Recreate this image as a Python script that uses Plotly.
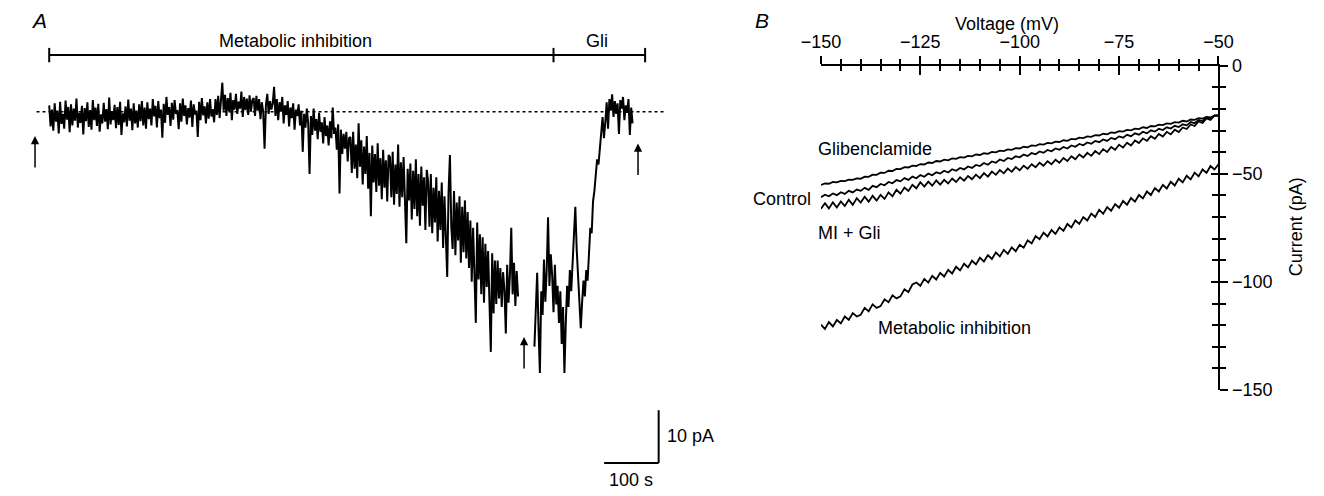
import plotly.graph_objects as go

# ---------------- Panel A data: whole-cell current trace (pA), sampled every 2.5 s ----------------
sample_step_s = 2.5
start_before_gap_s = 0
start_after_gap_s = 890
current_before_gap = [
    # 0-180 s: control, near zero
    1.2, -2.8, 0.4, -3.6, 1.6, -1.9, 0.2, -4.1, 1.9, -2.3, -0.4, -3.2, 2.1, -1.5, 0.9, -3.9,
    1.4, -2.6, 0.6, -1.7, 2.5, -3.0, -0.2, -2.1, 1.1, -4.3, 0.7, -1.8, 1.8, -2.9, 0.3, -3.4,
    2.2, -1.6, 0.8, -2.7, 1.5, -3.8, -0.5, -2.2, 1.7, -1.9, 0.5, -3.3, 2.7, -2.4, 0.1, -1.6,
    1.3, -3.1, 0.9, -2.5, 1.9, -4.4, -0.3, -2.0, 1.0, -2.8, 2.3, -1.7, 0.6, -3.5,
    1.6, -2.2, 0.2, -3.0, 1.4, -1.8, 2.0, -2.6, 0.8, -3.2,
    # 180-305 s
    1.8, -1.4, 0.6, -2.6, 2.4, -0.9, 1.1, -3.0, 2.0, -1.2, 0.4, -4.9,
    1.5, -2.1, 2.8, -0.6, 0.9, -2.7, 1.7, -1.5, 2.2, -0.4, 0.3, -3.3,
    1.6, -1.9, 2.5, -0.8, 1.2, -2.4, 0.7, -1.1, 2.1, -2.9, 1.4, -0.5, 0.2, -4.8,
    1.9, -1.6, 2.6, -0.7, 1.0, -2.2, 1.8, -1.3, 2.4, -0.9, 0.5, -2.0,
    # 305-375 s
    2.4, -0.6, 3.0, -1.2, 2.1, 5.5, 0.2, 3.2, -0.8, 2.6, 0.1, 3.6,
    -1.6, 2.2, 0.4, 3.4, -0.4, 1.9, 0.6, 3.8, -1.0, 2.8, 0.3, 2.5,
    -0.6, 3.1, 0.0, 2.2,
    # 375-410 s
    2.6, -0.8, 3.0, 0.2, 2.4, -1.4, 1.8, 0.0, -7.0, 1.2, 3.4, -0.4, 2.0, 0.4,
    # 410-480 s: current starts to develop
    1.6, 4.7, -0.8, 2.4, -1.6, 1.8, 0.0, 2.8, -2.2, 1.2, -0.6, 2.0,
    -2.8, 0.8, -1.2, 1.6, -3.4, 0.4, -0.8, 1.4, -2.6, 0.2, -7.6, -0.4,
    -3.0, 0.6, -2.2, -11.8,
    # 480-552 s
    -0.8, -4.4, 0.6, -3.6, -1.4, -5.2, -0.2, -3.8, -2.0, -6.0, -1.0, -4.6,
    -2.6, -6.4, -1.8, -5.0, 0.8, -4.2, -3.0, -7.2, -2.4, -15.5, -3.4, -8.0,
    -4.2, -7.0, -3.8, -9.4, -5.0,
    # 552-625 s
    -4.8, -11.6, -3.8, -10.8, -6.2, -12.6, -2.2, -10.4, -5.4, -13.8, -6.6, -11.8,
    -4.6, -14.6, -7.8, -19.8, -6.4, -13.4, -8.0, -15.2, -6.0, -14.0, -8.8, -16.6,
    -7.2, -14.4, -9.2, -17.0, -8.2,
    # 625-695 s
    -8.6, -16.2, -7.6, -17.6, -10.0, -15.6, -6.2, -18.0, -9.6, -16.2, -8.6, -19.4,
    -24.9, -10.8, -16.8, -9.8, -20.4, -11.2, -18.4, -9.0, -19.8, -11.8, -21.6, -10.4,
    -17.8, -12.4, -22.4, -11.0,
    # 695-767 s
    -13.2, -21.8, -11.8, -23.0, -14.4, -21.0, -12.4, -24.6, -15.0, -22.4, -13.4, -25.8,
    -16.0, -23.6, -31.3, -15.2, -8.2, -21.8, -26.0, -15.0, -27.2, -17.2, -24.4, -16.0,
    -28.6, -18.0, -26.6, -16.8, -27.8,
    # 767-822 s
    -19.0, -29.6, -20.6, -32.2, -22.0, -30.6, -40.0, -21.0, -31.8, -23.2, -34.6, -23.8,
    -36.2, -25.0, -33.2, -26.4, -38.0, -45.5, -26.8, -38.2, -28.2, -36.4,
    # 822-860 s
    -28.2, -35.4, -29.6, -37.0, -30.4, -33.8, -42.0, -29.0, -36.2, -31.0, -22.0, -34.6,
    -28.6, -36.8, -30.2, -35.0,
]
current_after_gap = [
    # 890-920 s
    -44.5, -36.0, -30.5, -41.0, -49.5, -34.0, -38.5, -28.0, -36.0, -30.0, -20.0, -33.0, -27.0,
    # 922-945 s
    -31.0, -38.0, -29.0, -36.5, -33.0, -40.0, -34.0, -44.0, -37.0, -49.5,
    # 947-975 s: glibenclamide applied
    -40.0, -33.0, -37.0, -30.0, -34.0, -28.0, -24.0, -18.0, -26.0, -31.0, -36.0, -41.0,
    # 977-1017 s
    -36.0, -32.0, -35.0, -30.0, -32.0, -26.0, -22.0, -23.0, -17.0, -15.0, -12.0, -9.0,
    -10.0, -6.0, -4.0, -1.0, -5.0,
    # 1020-1070 s
    -2.0, 1.8, -3.2, 2.4, 0.2, 3.3, -1.0, 2.0, -0.4, 1.6, -4.2, 2.2, 0.6, 2.8, -1.6, 1.2,
    -0.2, 2.4, -4.4, 0.8, -2.2,
]

# drug application periods (s), arrow marks (s, pA) and scale bars
mi_period = [0, 925]
gli_period = [925, 1093]
arrow_times = [-26, 871, 1080]
arrow_levels = [-4.6, -42.7, -6.0]
scale_time_s = 100
scale_current_pA = 10

# ---------------- Panel B data: I-V relations, 1 mV steps from -150 to -50 mV ----------------
voltage_B = list(range(-150, -49))
glibenclamide = [
    -55.2, -54.5, -54.6, -53.8, -54.0, -53.3, -53.4, -52.7, -52.8, -52.1,
    -52.3, -51.3, -51.4, -50.4, -50.5, -49.5, -49.6, -48.6, -48.7, -47.7,
    -47.8, -46.9, -47.1, -46.2, -46.4, -45.5, -45.7, -44.8, -45.0, -44.1,
    -44.3, -43.5, -43.8, -42.9, -43.1, -42.3, -42.5, -41.7, -41.9, -41.1,
    -41.3, -40.5, -40.8, -39.9, -40.1, -39.3, -39.5, -38.7, -38.9, -38.1,
    -38.3, -37.5, -37.8, -36.9, -37.1, -36.3, -36.5, -35.7, -35.9, -35.1,
    -35.3, -34.5, -34.8, -33.9, -34.1, -33.3, -33.5, -32.7, -32.9, -32.1,
    -32.3, -31.5, -31.8, -30.9, -31.1, -30.3, -30.5, -29.7, -29.9, -29.1,
    -29.3, -28.5, -28.8, -27.9, -28.1, -27.3, -27.5, -26.7, -26.9, -26.1,
    -26.3, -25.5, -25.8, -24.9, -25.1, -24.3, -24.5, -23.7, -23.9, -23.1,
    -23.0,
]
control = [
    -60.9, -59.7, -60.4, -59.1, -59.9, -58.5, -59.3, -57.9, -58.6, -57.3,
    -57.9, -56.5, -57.4, -55.6, -56.2, -54.7, -55.3, -53.8, -54.4, -52.9,
    -53.5, -52.0, -52.8, -51.3, -52.1, -50.6, -51.4, -49.9, -50.7, -49.3,
    -49.9, -48.6, -49.4, -47.9, -48.6, -47.3, -48.0, -46.6, -47.3, -45.9,
    -46.4, -45.0, -45.8, -44.3, -44.9, -43.4, -44.1, -42.7, -43.2, -41.9,
    -42.4, -41.1, -41.8, -40.4, -41.0, -39.7, -40.3, -39.0, -39.6, -38.3,
    -38.9, -37.6, -38.3, -36.9, -37.5, -36.2, -36.8, -35.5, -36.1, -34.8,
    -35.4, -34.1, -34.8, -33.4, -34.0, -32.7, -33.3, -32.0, -32.6, -31.3,
    -31.9, -30.6, -31.3, -29.9, -30.5, -29.2, -29.8, -28.5, -29.1, -27.8,
    -28.4, -27.1, -27.6, -26.1, -26.6, -25.1, -25.6, -24.1, -24.6, -23.1,
    -23.0,
]
mi_gli = [
    -66.2, -63.6, -66.0, -63.2, -65.6, -62.8, -64.9, -62.0, -64.4, -61.3,
    -63.3, -60.6, -62.9, -60.2, -62.4, -59.8, -61.6, -58.6, -60.4, -57.4,
    -59.2, -56.4, -57.9, -55.1, -56.7, -53.9, -55.9, -53.6, -55.5, -53.1,
    -55.0, -52.8, -54.5, -52.2, -53.8, -51.6, -53.2, -51.0, -52.5, -50.4,
    -52.0, -49.7, -51.3, -49.0, -50.5, -48.3, -49.8, -47.6, -49.1, -46.9,
    -48.4, -46.3, -47.7, -45.6, -47.0, -44.9, -46.3, -44.2, -45.6, -43.5,
    -44.9, -42.7, -44.1, -41.9, -43.3, -41.1, -42.5, -40.3, -41.7, -39.5,
    -40.9, -38.6, -39.9, -37.6, -38.9, -36.6, -37.9, -35.6, -36.9, -34.6,
    -35.8, -33.6, -34.8, -32.6, -33.8, -31.6, -32.8, -30.6, -31.8, -29.6,
    -30.7, -28.6, -29.3, -27.2, -27.9, -25.8, -26.5, -24.4, -25.1, -23.0,
    -23.2,
]
metabolic_inhibition = [
    -119.8, -121.8, -118.6, -120.6, -117.6, -119.2, -116.0, -117.6, -114.4, -116.0,
    -115.2, -112.0, -113.6, -110.4, -112.0, -111.2, -108.0, -109.4, -106.2, -107.6,
    -106.7, -103.4, -104.7, -101.2, -100.3, -101.8, -98.6, -100.3, -97.2, -98.9,
    -95.8, -97.5, -94.4, -96.1, -93.0, -94.7, -91.6, -93.3, -90.2, -91.9,
    -88.8, -90.6, -87.6, -89.4, -86.4, -88.2, -85.2, -87.0, -84.0, -85.8,
    -82.8, -84.2, -80.8, -82.2, -78.8, -80.2, -77.2, -79.0, -76.0, -77.8,
    -74.8, -76.4, -73.2, -74.8, -71.6, -73.2, -70.0, -71.6, -68.4, -70.0,
    -66.6, -68.5, -65.4, -67.1, -64.0, -65.7, -62.6, -64.3, -61.2, -62.9,
    -59.8, -61.4, -58.2, -59.8, -56.6, -58.2, -55.1, -56.8, -53.7, -55.4,
    -52.3, -54.0, -50.9, -52.6, -49.5, -51.2, -48.0, -49.6, -46.4, -48.0,
    -45.6,
]
v_ticks = [-150, -125, -100, -75, -50]
i_ticks = [0, -50, -100, -150]

# ---------------- layout geometry (pixels) ----------------
W, H = 1324, 496
FONT = "Liberation Sans, Arial, Helvetica, sans-serif"
FS = 18


def px(x):
    return x / W


def py(y):
    return 1 - y / H


# Panel A scale: 56 px per 100 s, 5.5 px per pA; t=0 at x=30 px, 0 pA at y=106 px
A_X0, A_PX_PER_S = 30, 0.56
A_Y0, A_PX_PER_PA = 106, 5.5
A_DOMAIN_RIGHT = 680
a_xrange = [(0 - A_X0) / A_PX_PER_S, (A_DOMAIN_RIGHT - A_X0) / A_PX_PER_S]
a_yrange = [-(H - A_Y0) / A_PX_PER_PA, A_Y0 / A_PX_PER_PA]

# Panel B axes box
B_LEFT, B_RIGHT, B_TOP, B_BOTTOM = 822.7, 1231, 58, 396

time_before = [start_before_gap_s + i * sample_step_s for i in range(len(current_before_gap))]
time_after = [start_after_gap_s + i * sample_step_s for i in range(len(current_after_gap))]
time_A = time_before + [None] + time_after
current_A = current_before_gap + [None] + current_after_gap

fig = go.Figure()
fig.add_trace(go.Scatter(x=time_A, y=current_A, mode="lines", connectgaps=False,
                         line=dict(color="black", width=2.0), xaxis="x", yaxis="y",
                         showlegend=False, hoverinfo="skip"))

for series in [glibenclamide, control, mi_gli, metabolic_inhibition]:
    fig.add_trace(go.Scatter(x=voltage_B, y=series, mode="lines",
                             line=dict(color="black", width=1.8), xaxis="x2", yaxis="y2",
                             showlegend=False, hoverinfo="skip"))
# empty trace activating the overlay axes that draw the inner half of the crossing ticks
fig.add_trace(go.Scatter(x=[None], y=[None], xaxis="x3", yaxis="y3", showlegend=False))

axis_common = dict(showgrid=False, zeroline=False)
tick_font = dict(family=FONT, size=FS, color="black")
fig.update_layout(
    width=W, height=H, autosize=False,
    margin=dict(l=0, r=0, t=0, b=0),
    paper_bgcolor="white", plot_bgcolor="white",
    font=dict(family=FONT, size=FS, color="black"),
    xaxis=dict(domain=[0, px(A_DOMAIN_RIGHT)], range=a_xrange, visible=False, **axis_common),
    yaxis=dict(domain=[0, 1], range=a_yrange, visible=False, **axis_common),
    xaxis2=dict(domain=[px(B_LEFT), px(B_RIGHT)], range=[-150, -50], side="top", anchor="y2",
                tickmode="array", tickvals=v_ticks, ticks="outside", ticklen=8, tickwidth=2,
                tickcolor="black", showline=True, linewidth=2, linecolor="black",
                tickfont=tick_font,
                minor=dict(dtick=5, tick0=-150, ticks="outside", ticklen=5, tickwidth=1.5,
                           tickcolor="black"),
                **axis_common),
    yaxis2=dict(domain=[py(B_BOTTOM), py(B_TOP)], range=[-150, 0], side="right", anchor="x2",
                tickmode="array", tickvals=i_ticks, ticks="outside", ticklen=8, tickwidth=2,
                tickcolor="black", showline=True, linewidth=2, linecolor="black",
                tickfont=tick_font,
                minor=dict(dtick=10, tick0=0, ticks="outside", ticklen=6, tickwidth=1.5,
                           tickcolor="black"),
                **axis_common),
    xaxis3=dict(overlaying="x2", range=[-150, -50], side="top", anchor="y3",
                tickmode="array", tickvals=v_ticks, ticks="inside", ticklen=9, tickwidth=2,
                tickcolor="black", showticklabels=False, showline=False,
                minor=dict(dtick=5, tick0=-150, ticks="inside", ticklen=5, tickwidth=1.5,
                           tickcolor="black"),
                **axis_common),
    yaxis3=dict(overlaying="y2", range=[-150, 0], side="right", anchor="x3",
                tickmode="array", tickvals=i_ticks, ticks="inside", ticklen=7, tickwidth=2,
                tickcolor="black", showticklabels=False, showline=False,
                minor=dict(dtick=10, tick0=0, ticks="inside", ticklen=6, tickwidth=1.5,
                           tickcolor="black"),
                **axis_common),
)

shapes = []
bar_y = (A_Y0 - 47) / A_PX_PER_PA
tick_h = 7.5 / A_PX_PER_PA
shapes.append(dict(type="line", xref="x", yref="y", x0=mi_period[0], x1=gli_period[1],
                   y0=bar_y, y1=bar_y, line=dict(color="black", width=2)))
for t in [mi_period[0], mi_period[1], gli_period[1]]:
    shapes.append(dict(type="line", xref="x", yref="y", x0=t, x1=t,
                       y0=bar_y - tick_h, y1=bar_y + tick_h, line=dict(color="black", width=2)))
shapes.append(dict(type="line", xref="x", yref="y", x0=(17 - A_X0) / A_PX_PER_S,
                   x1=(662 - A_X0) / A_PX_PER_S, y0=0, y1=0,
                   line=dict(color="black", width=1.5, dash="dot")))
sb_t1 = (656 - A_X0) / A_PX_PER_S
sb_i0 = -(472 - A_Y0) / A_PX_PER_PA
shapes.append(dict(type="line", xref="x", yref="y", x0=sb_t1 - scale_time_s, x1=sb_t1,
                   y0=sb_i0, y1=sb_i0, line=dict(color="black", width=2)))
shapes.append(dict(type="line", xref="x", yref="y", x0=sb_t1, x1=sb_t1,
                   y0=sb_i0, y1=sb_i0 + scale_current_pA, line=dict(color="black", width=2)))
fig.update_layout(shapes=shapes)

ann = []
for t, lvl in zip(arrow_times, arrow_levels):
    ann.append(dict(x=t, y=lvl, xref="x", yref="y", ax=0, ay=33, axref="pixel", ayref="pixel",
                    text="", showarrow=True, arrowhead=2, arrowsize=1.1, arrowwidth=1.5,
                    arrowcolor="black"))


def label(text, x, y, xanchor="center", size=FS, angle=0):
    ann.append(dict(text=text, x=px(x), y=py(y), xref="paper", yref="paper",
                    xanchor=xanchor, yanchor="middle", showarrow=False, textangle=angle,
                    font=dict(family=FONT, size=size, color="black")))


label("<i>A</i>", 20, 11, size=21)
label("<i>B</i>", 762, 11, size=21)
label("Metabolic inhibition", 283, 32)
label("Gli", 593, 32)
label("10 pA", 662, 444, xanchor="left")
label("100 s", 628, 490)
label("Voltage (mV)", 1014, 15)
label("Current (pA)", 1311, 226, angle=-90)
label("Glibenclamide", 818, 145, xanchor="left")
label("Control", 815, 197, xanchor="right")
label("MI + Gli", 818, 232, xanchor="left")
label("Metabolic inhibition", 879, 331, xanchor="left")
fig.update_layout(annotations=ann)

fig.write_html("out.html")
